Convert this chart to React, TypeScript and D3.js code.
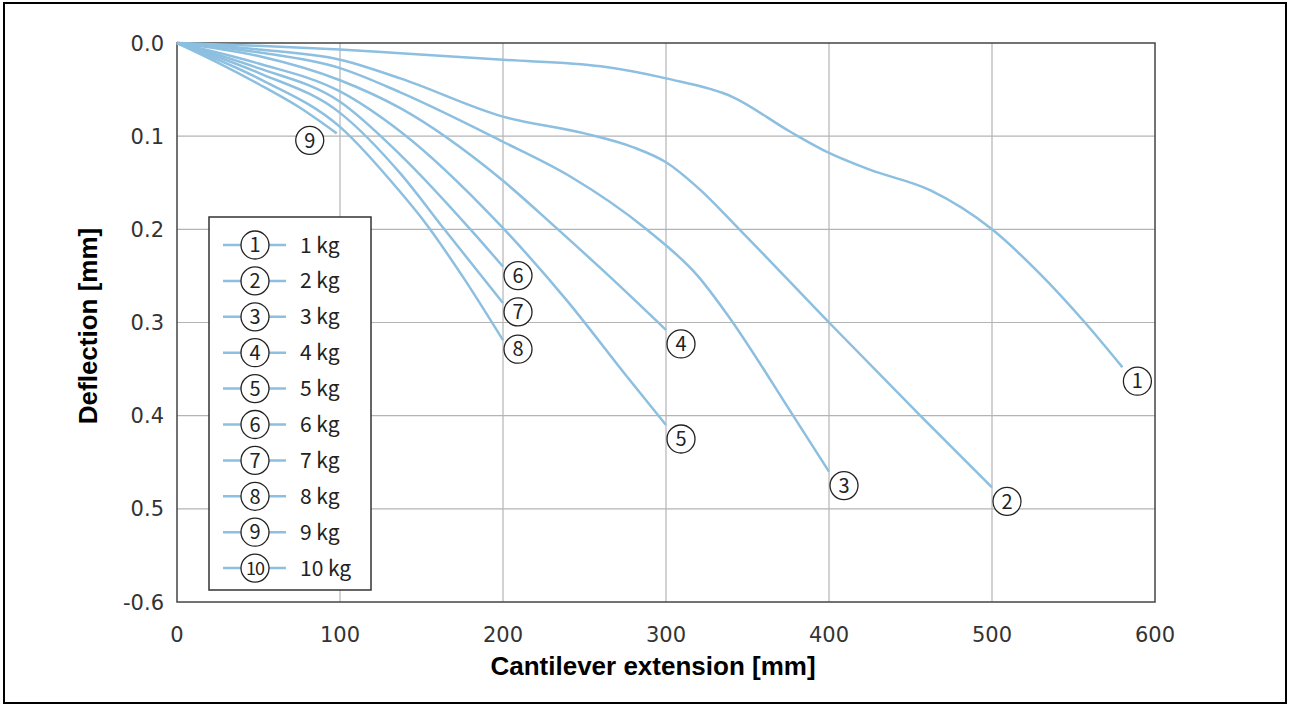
import React, { useEffect, useRef } from 'react';
import * as d3 from 'd3';

// x = cantilever extension [mm], y = deflection [mm]
const load1 = [[0, 0], [50, 0.003], [100, 0.007], [137, 0.011], [200, 0.018], [260, 0.025], [300, 0.038], [341, 0.058], [376, 0.095], [400, 0.118], [425, 0.136], [462, 0.158], [500, 0.2], [529, 0.247], [557, 0.3], [580, 0.348]];
const load2 = [[0, 0], [50, 0.007], [100, 0.018], [137, 0.038], [200, 0.079], [250, 0.097], [280, 0.112], [300, 0.128], [320, 0.156], [345, 0.2], [400, 0.3], [456, 0.4], [500, 0.477]];
const load3 = [[0, 0], [50, 0.01], [100, 0.027], [137, 0.053], [200, 0.106], [240, 0.142], [288, 0.2], [320, 0.251], [337, 0.29], [378, 0.4], [400, 0.46]];
const load4 = [[0, 0], [50, 0.014], [100, 0.04], [137, 0.07], [198, 0.145], [233, 0.199], [265, 0.25], [300, 0.308]];
const load5 = [[0, 0], [50, 0.022], [100, 0.052], [137, 0.095], [198, 0.195], [239, 0.276], [276, 0.358], [300, 0.41]];
const load6 = [[0, 0], [50, 0.027], [100, 0.063], [137, 0.12], [180, 0.2], [200, 0.24]];
const load7 = [[0, 0], [50, 0.032], [100, 0.075], [137, 0.14], [164, 0.2], [200, 0.279]];
const load8 = [[0, 0], [50, 0.038], [100, 0.09], [137, 0.16], [151, 0.19], [175, 0.25], [200, 0.319]];
const load9 = [[0, 0], [25, 0.021], [50, 0.044], [75, 0.069], [98, 0.097]];

const curves = [load1, load2, load3, load4, load5, load6, load7, load8, load9];
const legendLabels = ['1 kg', '2 kg', '3 kg', '4 kg', '5 kg', '6 kg', '7 kg', '8 kg', '9 kg', '10 kg'];
const xTicks = [0, 100, 200, 300, 400, 500, 600];
const yTicks = [0, 0.1, 0.2, 0.3, 0.4, 0.5, 0.6];
const yTickLabels = ['0.0', '0.1', '0.2', '0.3', '0.4', '0.5', '-0.6'];

const BLUE = '#8cbfe0';

export default function App() {
  const svgRef = useRef(null);

  useEffect(() => {
    const width = 1290;
    const height = 706;
    const margin = { top: 43, right: 135, bottom: 104, left: 177 };

    const svg = d3.select(svgRef.current);
    svg.selectAll('*').remove();
    svg.attr('width', width).attr('height', height);

    const x = d3.scaleLinear().domain([0, 600]).range([margin.left, width - margin.right]);
    const y = d3.scaleLinear().domain([0, 0.6]).range([margin.top, height - margin.bottom]);

    // outer frame
    svg.append('rect')
      .attr('x', 4).attr('y', 3).attr('width', 1282).attr('height', 700)
      .attr('fill', 'white').attr('stroke', '#000').attr('stroke-width', 2);

    // grid
    svg.append('g')
      .selectAll('line')
      .data(xTicks.slice(1, -1))
      .enter().append('line')
      .attr('x1', d => x(d)).attr('x2', d => x(d))
      .attr('y1', y(0)).attr('y2', y(0.6))
      .attr('stroke', '#b4b4b4').attr('stroke-width', 1.2);
    svg.append('g')
      .selectAll('line')
      .data(yTicks.slice(1, -1))
      .enter().append('line')
      .attr('y1', d => y(d)).attr('y2', d => y(d))
      .attr('x1', x(0)).attr('x2', x(600))
      .attr('stroke', '#b4b4b4').attr('stroke-width', 1.2);

    // plot frame
    svg.append('rect')
      .attr('x', x(0)).attr('y', y(0))
      .attr('width', x(600) - x(0)).attr('height', y(0.6) - y(0))
      .attr('fill', 'none').attr('stroke', '#444').attr('stroke-width', 1.5);

    // tick labels
    svg.append('g')
      .selectAll('text')
      .data(yTicks)
      .enter().append('text')
      .attr('x', 164).attr('y', d => y(d))
      .attr('dy', '0.36em')
      .attr('text-anchor', 'end')
      .attr('font-family', 'DejaVu Sans')
      .attr('font-size', 21)
      .attr('fill', '#333')
      .text((d, i) => yTickLabels[i]);
    svg.append('g')
      .selectAll('text')
      .data(xTicks)
      .enter().append('text')
      .attr('x', d => x(d)).attr('y', 634)
      .attr('dy', '0.36em')
      .attr('text-anchor', 'middle')
      .attr('font-family', 'DejaVu Sans')
      .attr('font-size', 21)
      .attr('fill', '#333')
      .text(d => d);

    // axis titles
    svg.append('text')
      .attr('x', 653).attr('y', 666)
      .attr('dy', '0.36em')
      .attr('text-anchor', 'middle')
      .attr('font-family', 'Liberation Sans, Arial, sans-serif')
      .attr('font-weight', 'bold')
      .attr('font-size', 26)
      .text('Cantilever extension [mm]');
    svg.append('text')
      .attr('transform', 'translate(88,326) rotate(-90)')
      .attr('dy', '0.36em')
      .attr('text-anchor', 'middle')
      .attr('font-family', 'Liberation Sans, Arial, sans-serif')
      .attr('font-weight', 'bold')
      .attr('font-size', 26)
      .text('Deflection [mm]');

    // curves
    const line = d3.line()
      .x(d => x(d[0]))
      .y(d => y(d[1]))
      .curve(d3.curveMonotoneX);
    svg.append('g')
      .selectAll('path')
      .data(curves)
      .enter().append('path')
      .attr('d', d => line(d))
      .attr('fill', 'none')
      .attr('stroke', BLUE)
      .attr('stroke-width', 2.5);

    const badge = (g, cx, cy, label) => {
      g.append('circle')
        .attr('cx', cx).attr('cy', cy).attr('r', 14)
        .attr('fill', 'white').attr('stroke', '#222').attr('stroke-width', 1.3);
      g.append('text')
        .attr('x', cx).attr('y', cy)
        .attr('dy', '0.36em')
        .attr('text-anchor', 'middle')
        .attr('font-family', 'Noto Sans CJK JP, Noto Sans, sans-serif')
        .attr('font-size', label.length > 1 ? 18 : 20)
        .attr('letter-spacing', label.length > 1 ? -1 : 0)
        .attr('fill', '#222')
        .text(label);
    };

    // end labels next to each curve's last point
    const labels = svg.append('g');
    curves.forEach((c, i) => {
      const last = c[c.length - 1];
      const dx = i === 8 ? -27 : 15;
      const dy = i === 8 ? 7 : i >= 5 ? 9 : 14;
      badge(labels, x(last[0]) + dx, y(last[1]) + dy, String(i + 1));
    });

    // legend
    const lg = svg.append('g');
    lg.append('rect')
      .attr('x', 209).attr('y', 217).attr('width', 162).attr('height', 373)
      .attr('fill', 'white').attr('stroke', '#333').attr('stroke-width', 1.5);
    legendLabels.forEach((lab, i) => {
      const cy = 245 + i * 35.9;
      lg.append('line')
        .attr('x1', 223).attr('x2', 286).attr('y1', cy).attr('y2', cy)
        .attr('stroke', BLUE).attr('stroke-width', 2.5);
      badge(lg, 255, cy, String(i + 1));
      lg.append('text')
        .attr('x', 300).attr('y', cy)
        .attr('dy', '0.36em')
        .attr('font-family', 'Noto Sans CJK JP, Noto Sans, sans-serif')
        .attr('font-size', 21)
        .attr('fill', '#222')
        .text(lab);
    });
  }, []);

  return (
    <svg ref={svgRef} style={{ position: 'absolute', left: 0, top: 0 }}></svg>
  );
}
